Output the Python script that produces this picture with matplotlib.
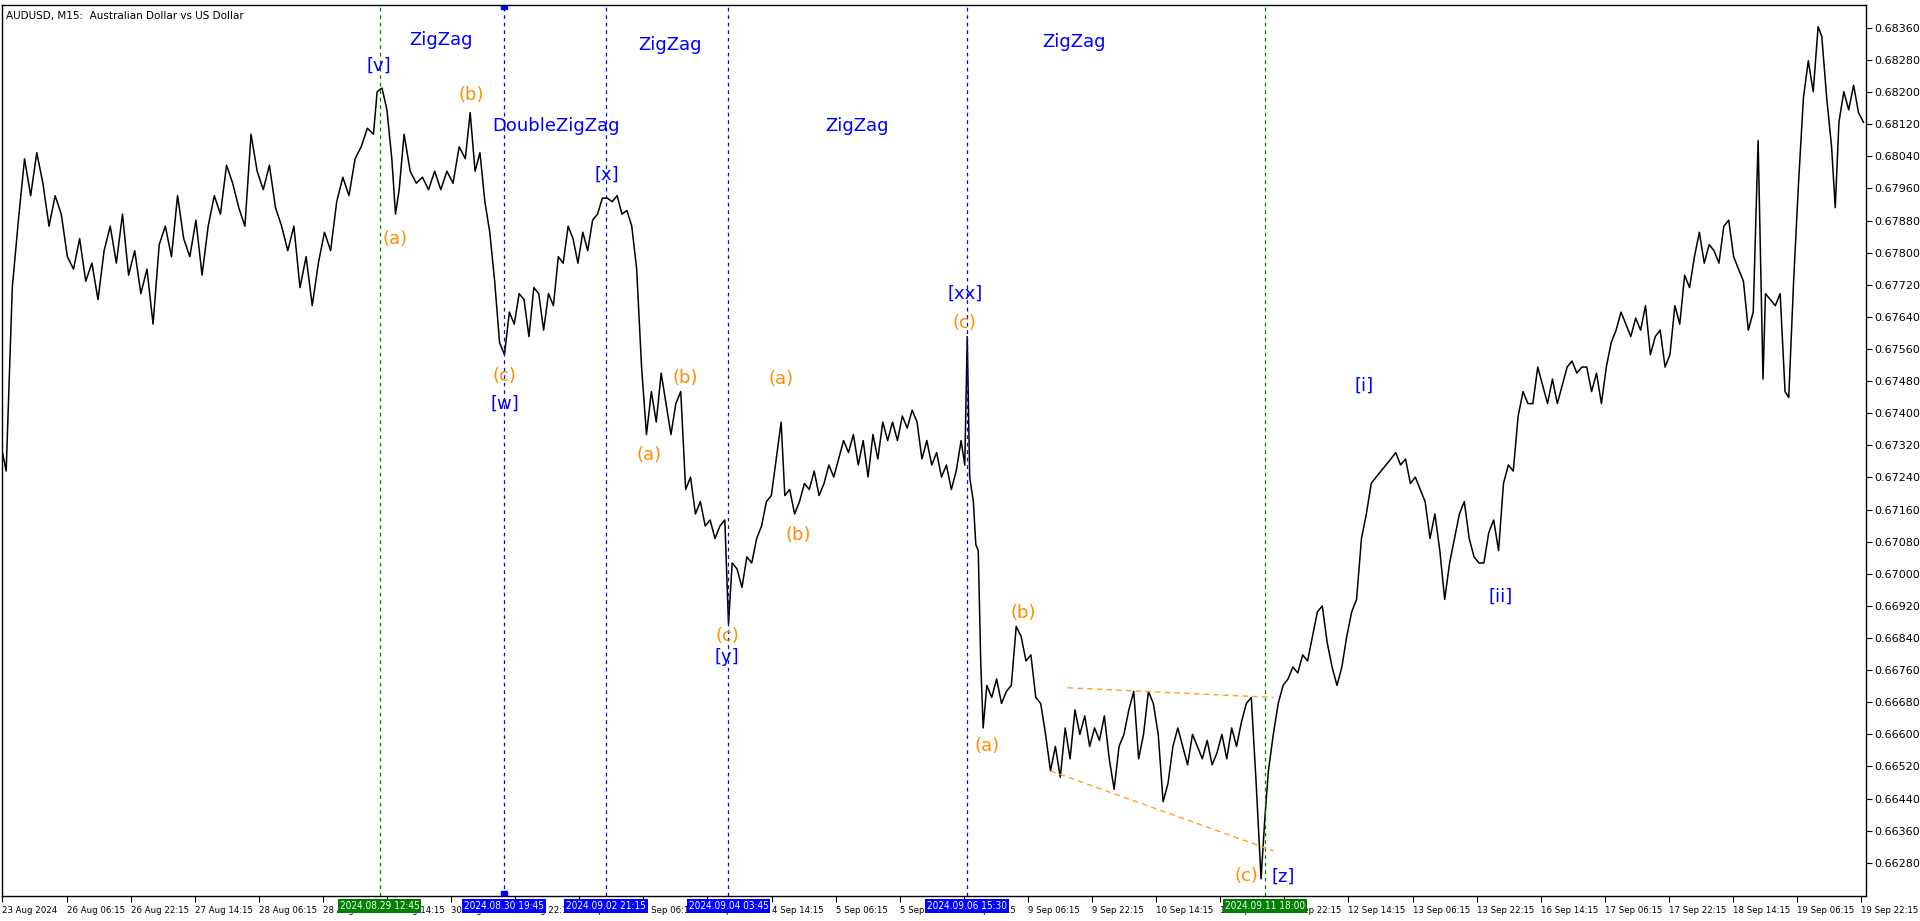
import matplotlib
matplotlib.use("Agg")
import matplotlib.pyplot as plt

quotes = [
(0,0.67332),(5,0.67256),(10,0.67713),(15,0.67881),(20,0.68034),(25,0.67942),(30,0.68049),(35,0.67973),
(40,0.67866),(45,0.67942),(50,0.67896),(55,0.67790),(60,0.67759),(65,0.67835),(70,0.67729),(75,0.67774),
(80,0.67683),(85,0.67805),(90,0.67866),(95,0.67774),(100,0.67896),(105,0.67744),(110,0.67805),(115,0.67698),
(120,0.67759),(125,0.67622),(130,0.67820),(135,0.67866),(140,0.67790),(145,0.67942),(150,0.67835),(155,0.67790),
(160,0.67881),(165,0.67744),(170,0.67866),(175,0.67942),(180,0.67896),(185,0.68018),(190,0.67973),(195,0.67912),
(200,0.67866),(205,0.68095),(210,0.68003),(215,0.67957),(220,0.68018),(225,0.67912),(230,0.67866),(235,0.67805),
(240,0.67866),(245,0.67713),(250,0.67790),(255,0.67668),(260,0.67774),(265,0.67851),(270,0.67805),(275,0.67927),
(280,0.67988),(285,0.67942),(290,0.68034),(295,0.68064),(300,0.68110),(305,0.68095),(308,0.68201),(312,0.68210),
(316,0.68156),(320,0.68034),(323,0.67896),(326,0.67957),(330,0.68095),(335,0.68003),(340,0.67973),(345,0.67988),
(350,0.67957),(355,0.68003),(360,0.67957),(365,0.68003),(370,0.67973),(375,0.68064),(380,0.68034),(384,0.68149),
(388,0.68003),(392,0.68049),(396,0.67927),(400,0.67851),(404,0.67729),(408,0.67576),(412,0.67546),(416,0.67652),
(420,0.67622),(424,0.67698),(428,0.67683),(432,0.67591),(436,0.67713),(440,0.67698),(444,0.67607),(448,0.67698),
(452,0.67668),(456,0.67790),(460,0.67774),(464,0.67866),(468,0.67835),(472,0.67774),(476,0.67851),(480,0.67805),
(484,0.67881),(488,0.67896),(492,0.67936),(496,0.67936),(500,0.67927),(504,0.67942),(508,0.67896),(512,0.67905),
(516,0.67866),(520,0.67759),(524,0.67515),(528,0.67347),(532,0.67454),(536,0.67378),(540,0.67500),(544,0.67424),
(548,0.67347),(552,0.67424),(556,0.67454),(560,0.67210),(564,0.67241),(568,0.67149),(572,0.67180),(576,0.67119),
(580,0.67134),(584,0.67088),(588,0.67119),(592,0.67134),(595,0.66875),(598,0.67027),(602,0.67012),(606,0.66966),
(610,0.67042),(614,0.67027),(618,0.67088),(622,0.67119),(626,0.67180),(630,0.67195),(634,0.67286),(638,0.67378),
(641,0.67195),(645,0.67210),(649,0.67149),(653,0.67180),(657,0.67225),(661,0.67210),(665,0.67256),(669,0.67195),
(673,0.67225),(677,0.67271),(681,0.67241),(685,0.67286),(689,0.67332),(693,0.67302),(697,0.67347),(701,0.67271),
(705,0.67332),(709,0.67241),(713,0.67347),(717,0.67286),(721,0.67378),(725,0.67332),(729,0.67378),(733,0.67332),
(737,0.67393),(741,0.67363),(745,0.67408),(749,0.67378),(753,0.67286),(757,0.67332),(761,0.67271),(765,0.67302),
(769,0.67241),(773,0.67271),(777,0.67210),(781,0.67256),(785,0.67332),(788,0.67271),(790,0.67591),(792,0.67241),
(795,0.67180),(797,0.67073),(799,0.67058),(801,0.66783),(803,0.66616),(806,0.66722),(810,0.66692),(814,0.66738),
(818,0.66677),(822,0.66707),(826,0.66722),(830,0.66869),(834,0.66844),(838,0.66783),(842,0.66798),(846,0.66692),
(850,0.66677),(854,0.66600),(858,0.66509),(862,0.66570),(866,0.66493),(870,0.66616),(874,0.66539),(878,0.66661),
(882,0.66600),(886,0.66646),(890,0.66570),(894,0.66616),(898,0.66585),(902,0.66646),(906,0.66539),(910,0.66463),
(914,0.66570),(918,0.66600),(922,0.66661),(926,0.66707),(930,0.66539),(934,0.66600),(938,0.66707),(942,0.66677),
(946,0.66600),(950,0.66432),(954,0.66478),(958,0.66570),(962,0.66616),(966,0.66570),(970,0.66524),(974,0.66600),
(978,0.66570),(982,0.66539),(986,0.66585),(990,0.66524),(994,0.66554),(998,0.66600),(1002,0.66539),(1006,0.66616),
(1010,0.66570),(1014,0.66631),(1018,0.66677),(1022,0.66692),(1026,0.66478),(1030,0.66240),(1033,0.66387),(1036,0.66509),
(1040,0.66600),(1044,0.66677),(1048,0.66722),(1052,0.66738),(1056,0.66768),(1060,0.66753),(1064,0.66798),(1068,0.66783),
(1072,0.66844),(1076,0.66905),(1080,0.66920),(1084,0.66829),(1088,0.66768),(1092,0.66722),(1096,0.66768),(1100,0.66844),
(1104,0.66905),(1108,0.66936),(1112,0.67088),(1116,0.67149),(1120,0.67225),(1124,0.67241),(1128,0.67256),(1132,0.67271),
(1136,0.67286),(1140,0.67302),(1144,0.67271),(1148,0.67286),(1152,0.67225),(1156,0.67241),(1160,0.67210),(1164,0.67180),
(1168,0.67088),(1172,0.67149),(1176,0.67058),(1180,0.66936),(1184,0.67027),(1188,0.67088),(1192,0.67149),(1196,0.67180),
(1200,0.67088),(1204,0.67042),(1208,0.67027),(1212,0.67027),(1216,0.67103),(1220,0.67134),(1224,0.67058),(1228,0.67225),
(1232,0.67271),(1236,0.67256),(1240,0.67393),(1244,0.67454),(1248,0.67424),(1252,0.67424),(1256,0.67515),(1260,0.67469),
(1264,0.67424),(1268,0.67485),(1272,0.67424),(1276,0.67469),(1280,0.67515),(1284,0.67530),(1288,0.67500),(1292,0.67515),
(1296,0.67515),(1300,0.67454),(1304,0.67500),(1308,0.67424),(1312,0.67515),(1316,0.67576),(1320,0.67607),(1324,0.67652),
(1328,0.67622),(1332,0.67591),(1336,0.67637),(1340,0.67607),(1344,0.67668),(1348,0.67546),(1352,0.67591),(1356,0.67607),
(1360,0.67515),(1364,0.67546),(1368,0.67668),(1372,0.67622),(1376,0.67744),(1380,0.67713),(1384,0.67790),(1388,0.67851),
(1392,0.67774),(1396,0.67820),(1400,0.67805),(1404,0.67774),(1408,0.67866),(1412,0.67881),(1416,0.67790),(1420,0.67759),
(1424,0.67729),(1428,0.67607),(1432,0.67652),(1436,0.68079),(1440,0.67485),(1442,0.67698),(1446,0.67683),(1450,0.67668),
(1454,0.67698),(1458,0.67454),(1461,0.67439),(1465,0.67729),(1469,0.67973),(1473,0.68186),(1477,0.68278),(1481,0.68201),
(1485,0.68363),(1488,0.68339),(1492,0.68186),(1496,0.68064),(1499,0.67912),(1502,0.68125),(1506,0.68201),(1510,0.68156),
(1514,0.68217),(1518,0.68149),(1522,0.68125),
]
bars = [q[0] for q in quotes]
prices = [q[1] for q in quotes]

tick_labels = ["23 Aug 2024","26 Aug 06:15","26 Aug 22:15","27 Aug 14:15","28 Aug 06:15","28 Aug 22:15",
    "29 Aug 14:15","30 Aug 06:15","30 Aug 22:15","2 Sep 14:15","3 Sep 06:15","3 Sep 22:15","4 Sep 14:15",
    "5 Sep 06:15","5 Sep 22:15","6 Sep 14:15","9 Sep 06:15","9 Sep 22:15","10 Sep 14:15","11 Sep 06:15",
    "11 Sep 22:15","12 Sep 14:15","13 Sep 06:15","13 Sep 22:15","16 Sep 14:15","17 Sep 06:15","17 Sep 22:15",
    "18 Sep 14:15","19 Sep 06:15","19 Sep 22:15"]
price_ticks = [0.66280 + 0.0008*i for i in range(27)]

vlines = [(310,"green","2024.08.29 12:45"),(412,"blue","2024.08.30 19:45"),(495,"blue","2024.09.02 21:15"),
          (595,"blue","2024.09.04 03:45"),(790,"blue","2024.09.06 15:30"),(1033,"green","2024.09.11 18:00")]
blue_labels = [("ZigZag",360,0.68330),("ZigZag",547,0.68318),("ZigZag",877,0.68324),("ZigZag",700,0.68116),
               ("DoubleZigZag",454,0.68116),("[v]",309,0.68266),("[w]",412,0.67424),("[x]",496,0.67993),
               ("[y]",594,0.66793),("[xx]",788,0.67698),("[z]",1048,0.66246),("[i]",1114,0.67469),("[ii]",1226,0.66942)]
orange_labels = [("(b)",385,0.68192),("(a)",323,0.67835),("(c)",412,0.67494),("(b)",560,0.67488),("(a)",530,0.67296),
                 ("(a)",638,0.67485),("(b)",652,0.67097),("(c)",594,0.66844),("(c)",788,0.67625),("(b)",836,0.66902),
                 ("(a)",806,0.66570),("(c)",1018,0.66246)]
trend_lines = [((872,0.66716),(1040,0.66692)),((858,0.66509),(1040,0.66310))]

fig = plt.figure(figsize=(19.2,9.21), dpi=100)
ax = fig.add_axes([0.0013,0.027,0.9705,0.968])
ax.plot(bars, prices, color="black", lw=1.1)
xmin, xmax, ymin, ymax = 2, 1524, 0.66197, 0.68418
ax.set_xlim(xmin, xmax); ax.set_ylim(ymin, ymax)

for x,c,lab in vlines:
    ax.axvline(x, color=c, ls=(0,(3,3)), lw=0.9)
    ax.text(x, -0.006, lab, transform=ax.get_xaxis_transform(), ha="center", va="top", fontsize=7.2,
            fontstretch="condensed", color="white", bbox=dict(boxstyle="square,pad=0.2", fc=c, ec="none"),
            clip_on=False, zorder=10)
ax.plot([412,412],[0.998,0.002], transform=ax.get_xaxis_transform(), ls="none", marker="s", ms=4, color="blue")

for (a,b) in trend_lines:
    ax.plot([a[0],b[0]],[a[1],b[1]], color="#ffa020", ls=(0,(4,3)), lw=1.0)
for t,x,y in blue_labels:
    ax.text(x,y,t,color="blue",fontsize=13,ha="center",va="center")
for t,x,y in orange_labels:
    ax.text(x,y,t,color="darkorange",fontsize=13,ha="center",va="center")

ax.text(0.002,0.993,"AUDUSD, M15:  Australian Dollar vs US Dollar",transform=ax.transAxes,fontsize=7.5,va="top")

ax.yaxis.tick_right()
ax.set_yticks(price_ticks)
ax.set_yticklabels([f"{p:.5f}" for p in price_ticks], fontsize=8)
ax.tick_params(axis="y", length=4, pad=2)
ticks = [xmin + 52.35*i for i in range(len(tick_labels))]
ax.set_xticks(ticks)
ax.set_xticklabels(tick_labels, fontsize=6.8, ha="left", fontstretch="condensed")
ax.tick_params(axis="x", length=4, pad=3)
for s in ax.spines.values():
    s.set_linewidth(1.0)
fig.savefig("out.png", dpi=100, facecolor="white")
